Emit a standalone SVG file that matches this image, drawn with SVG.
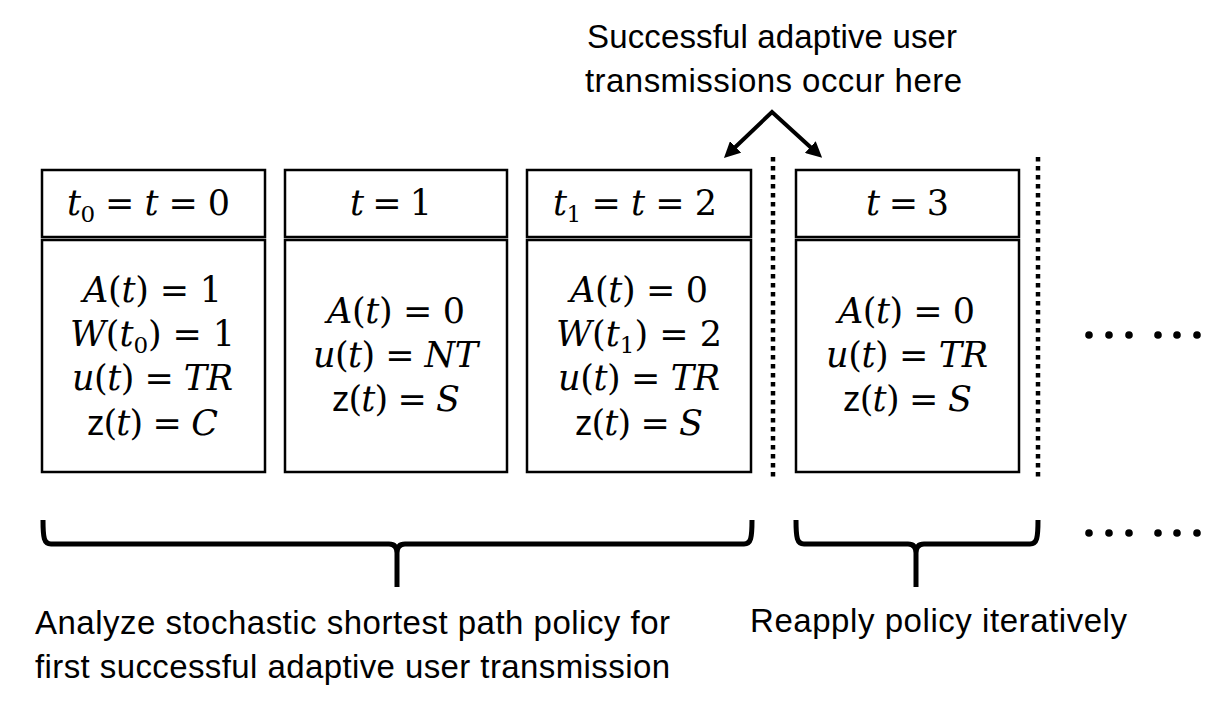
<svg xmlns="http://www.w3.org/2000/svg" width="1214" height="711" viewBox="0 0 1214 711">
<style>
.box{fill:#fff;stroke:#000;stroke-width:2.5}
.m{font-family:"DejaVu Serif","Liberation Serif",serif;font-size:35px;fill:#000}
.i{font-style:italic}
.s{font-family:"Liberation Sans",Arial,sans-serif;font-style:normal}
.sub{font-size:23px}
.lbl{font-family:"Liberation Sans",Arial,sans-serif;font-size:33px;fill:#000}
.dot{stroke:#000;stroke-width:4.5;stroke-dasharray:4.5 4.5;fill:none}
.brace{fill:none;stroke:#000;stroke-width:5;stroke-linejoin:round}
.arrow{fill:none;stroke:#000;stroke-width:4;stroke-linejoin:miter}
</style>
<defs>
<marker id="ah" viewBox="0 0 16 16" markerUnits="userSpaceOnUse" markerWidth="16" markerHeight="16" refX="10" refY="8" orient="auto-start-reverse">
<path d="M0,0 L16,8 L0,16 Z" fill="#000"/>
</marker>
</defs>
<rect width="1214" height="711" fill="#fff"/>

<g id="label-top">
<text class="lbl" x="587" y="48" textLength="370">Successful adaptive user</text>
<text class="lbl" x="585" y="92" textLength="377">transmissions occur here</text>
</g>

<g id="node-t0">
<rect class="box" x="42" y="170" width="223" height="67"/>
<rect class="box" x="42" y="240" width="223" height="232"/>
<text class="m" x="67" y="215" textLength="163"><tspan class="i">t</tspan><tspan class="sub" dy="7">0</tspan><tspan dy="-7"> = </tspan><tspan class="i">t</tspan> = 0</text>
<text class="m" x="83" y="302" textLength="139"><tspan class="i">A</tspan>(<tspan class="i">t</tspan>) = 1</text>
<text class="m" x="70" y="346" textLength="165"><tspan class="i">W</tspan>(<tspan class="i">t</tspan><tspan class="sub" dy="7">0</tspan><tspan dy="-7">) = 1</tspan></text>
<text class="m" x="72" y="390" textLength="161"><tspan class="i">u</tspan>(<tspan class="i">t</tspan>) = <tspan class="i">TR</tspan></text>
<text class="m" x="87" y="435" textLength="131"><tspan class="s">z</tspan>(<tspan class="i">t</tspan>) = <tspan class="i">C</tspan></text>
</g>

<g id="node-t1">
<rect class="box" x="285" y="170" width="222" height="67"/>
<rect class="box" x="285" y="240" width="222" height="232"/>
<text class="m" x="350" y="215" textLength="82"><tspan class="i">t</tspan> = 1</text>
<text class="m" x="327" y="323" textLength="138"><tspan class="i">A</tspan>(<tspan class="i">t</tspan>) = 0</text>
<text class="m" x="313" y="367" textLength="165"><tspan class="i">u</tspan>(<tspan class="i">t</tspan>) = <tspan class="i">NT</tspan></text>
<text class="m" x="332" y="411" textLength="128"><tspan class="s">z</tspan>(<tspan class="i">t</tspan>) = <tspan class="i">S</tspan></text>
</g>

<g id="node-t2">
<rect class="box" x="527" y="170" width="224" height="67"/>
<rect class="box" x="527" y="240" width="224" height="232"/>
<text class="m" x="553" y="215" textLength="164"><tspan class="i">t</tspan><tspan class="sub" dy="7">1</tspan><tspan dy="-7"> = </tspan><tspan class="i">t</tspan> = 2</text>
<text class="m" x="570" y="302" textLength="138"><tspan class="i">A</tspan>(<tspan class="i">t</tspan>) = 0</text>
<text class="m" x="556" y="346" textLength="166"><tspan class="i">W</tspan>(<tspan class="i">t</tspan><tspan class="sub" dy="7">1</tspan><tspan dy="-7">) = 2</tspan></text>
<text class="m" x="558" y="390" textLength="162"><tspan class="i">u</tspan>(<tspan class="i">t</tspan>) = <tspan class="i">TR</tspan></text>
<text class="m" x="575" y="435" textLength="128"><tspan class="s">z</tspan>(<tspan class="i">t</tspan>) = <tspan class="i">S</tspan></text>
</g>

<g id="node-t3">
<rect class="box" x="796" y="170" width="223" height="67"/>
<rect class="box" x="796" y="240" width="223" height="232"/>
<text class="m" x="866" y="215" textLength="83"><tspan class="i">t</tspan> = 3</text>
<text class="m" x="838" y="323" textLength="137"><tspan class="i">A</tspan>(<tspan class="i">t</tspan>) = 0</text>
<text class="m" x="826" y="367" textLength="162"><tspan class="i">u</tspan>(<tspan class="i">t</tspan>) = <tspan class="i">TR</tspan></text>
<text class="m" x="843" y="411" textLength="129"><tspan class="s">z</tspan>(<tspan class="i">t</tspan>) = <tspan class="i">S</tspan></text>
</g>

<g id="connectors">
<polyline class="arrow" points="728.3,153.8 772,112 817.7,153.8" marker-start="url(#ah)" marker-end="url(#ah)"/>
<line class="dot" x1="773" y1="157" x2="773" y2="480"/>
<line class="dot" x1="1038" y1="157" x2="1038" y2="480"/>
<path class="brace" d="M43,520 C43,538 44,544 51,544 H389 C394,544 397,547 397,553 V587 M397,553 C397,547 400,544 405,544 H744 C751,544 752,538 752,520"/>
<path class="brace" d="M796,520 C796,538 797,544 804,544 H908 C913,544 916,547 916,553 V587 M916,553 C916,547 919,544 924,544 H1030 C1037,544 1038,538 1038,520"/>
</g>

<g id="ellipsis" fill="#000">
<circle cx="1089" cy="335" r="3.8"/><circle cx="1109" cy="335" r="3.8"/><circle cx="1129" cy="335" r="3.8"/>
<circle cx="1158" cy="335" r="3.8"/><circle cx="1177" cy="335" r="3.8"/><circle cx="1197" cy="335" r="3.8"/>
<circle cx="1089" cy="533" r="3.8"/><circle cx="1109" cy="533" r="3.8"/><circle cx="1129" cy="533" r="3.8"/>
<circle cx="1158" cy="533" r="3.8"/><circle cx="1177" cy="533" r="3.8"/><circle cx="1197" cy="533" r="3.8"/>
</g>

<g id="label-bottom">
<text class="lbl" x="35" y="634" textLength="635">Analyze stochastic shortest path policy for</text>
<text class="lbl" x="35" y="678" textLength="635">first successful adaptive user transmission</text>
<text class="lbl" x="750" y="632" textLength="377">Reapply policy iteratively</text>
</g>
</svg>
